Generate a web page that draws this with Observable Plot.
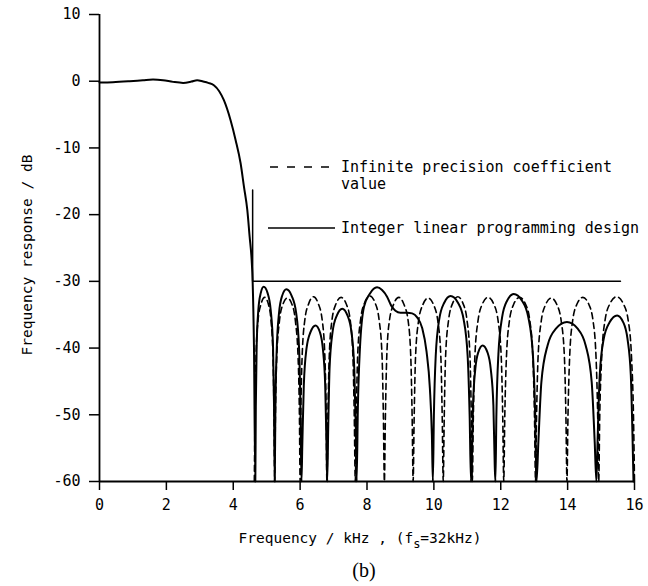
<!DOCTYPE html>
<html>
<head>
<meta charset="utf-8">
<script src="https://cdn.jsdelivr.net/npm/d3@7"></script>
<script src="https://cdn.jsdelivr.net/npm/@observablehq/plot@0.6"></script>
<style>
  html, body { margin: 0; padding: 0; background: #fff; }
  #wrap { position: relative; width: 648px; height: 586px; background: #fff; overflow: hidden; }
  #overlay { position: absolute; left: 0; top: 0; pointer-events: none; }
  .mono { font-family: "DejaVu Sans Mono", monospace; fill: #000; }
</style>
</head>
<body>
<div id="wrap">
  <div id="chart"></div>
  <svg id="overlay" width="648" height="586" xmlns="http://www.w3.org/2000/svg">
    <line x1="270" x2="335" y1="167" y2="167" stroke="#000" stroke-width="1.6" stroke-dasharray="8,9"/>
    <text class="mono" x="341" y="172" font-size="15">Infinite precision coefficient</text>
    <text class="mono" x="341" y="189" font-size="15">value</text>
    <line x1="268" x2="335" y1="228" y2="228" stroke="#000" stroke-width="1.4"/>
    <text class="mono" x="341" y="233" font-size="15">Integer linear programming design</text>
    <text class="mono" x="28" y="255" font-size="14.5" text-anchor="middle" transform="rotate(-90 28 255)" dominant-baseline="middle">Frequency response / dB</text>
    <text class="mono" x="360" y="543" font-size="14.5" text-anchor="middle">Frequency / kHz , (f<tspan font-size="12" dy="5">s</tspan><tspan dy="-5">=32kHz)</tspan></text>
    <text x="364" y="577" font-size="20" text-anchor="middle" font-family="'Liberation Serif', 'DejaVu Serif', serif" fill="#000">(b)</text>
  </svg>
</div>
<script>
// ---- data ----
const xTicks = [0, 2, 4, 6, 8, 10, 12, 14, 16];
const yTicks = [10, 0, -10, -20, -30, -40, -50, -60];

// Integer linear programming design (solid)
const ilpFreq = [
  0, 0.4, 0.9, 1.3, 1.6, 1.9, 2.2, 2.5, 2.75, 2.92, 3.1, 3.25, 3.42, 3.58, 3.72, 3.92, 4.07, 4.22, 4.32, 4.42, 4.49, 4.55, 4.58, 4.62, 4.66,
  4.675, 4.70, 4.75, 4.82, 4.91, 5.03, 5.12, 5.19, 5.22, 5.24,
  5.26, 5.30, 5.37, 5.46, 5.59, 5.75, 5.88, 5.97, 6.01, 6.04,
  6.065, 6.11, 6.19, 6.31, 6.46, 6.59, 6.68, 6.75, 6.79, 6.81,
  6.84, 6.88, 6.97, 7.10, 7.26, 7.415, 7.535, 7.62, 7.665, 7.69,
  7.727, 7.79, 7.91, 8.08, 8.30, 8.45, 8.6, 8.72, 8.85, 9.0, 9.2, 9.35, 9.5, 9.65, 9.78, 9.88, 9.94, 9.97,
  10.00, 10.055, 10.16, 10.31, 10.5, 10.72, 10.89, 11.01, 11.07, 11.11,
  11.13, 11.17, 11.24, 11.33, 11.46, 11.60, 11.70, 11.78, 11.82, 11.84,
  11.87, 11.93, 12.04, 12.19, 12.39, 12.635, 12.825, 12.96, 13.03, 13.07,
  13.125, 13.215, 13.40, 13.65, 13.98, 14.30, 14.54, 14.72, 14.81, 14.86,
  14.90, 14.96, 15.08, 15.26, 15.48, 15.66, 15.79, 15.89, 15.94, 15.97
];
const ilpDb = [
  -0.2, -0.15, 0.0, 0.15, 0.25, 0.15, -0.1, -0.25, -0.05, 0.15, -0.05, -0.25, -0.6, -1.5, -2.85, -5.85, -8.8, -12.3, -15.8, -19.3, -23.3, -26.8, -30, -40, -60,
  -48.8, -39.8, -34.3, -31.8, -30.8, -31.8, -34.3, -39.8, -48.8, -60,
  -49.2, -40.2, -34.7, -32.2, -31.2, -32.2, -34.7, -40.2, -49.2, -60,
  -54.6, -45.6, -40.1, -37.6, -36.6, -37.6, -40.1, -45.6, -54.6, -60,
  -52.1, -43.1, -37.6, -35.1, -34.1, -35.1, -37.6, -43.1, -52.1, -60,
  -48.9, -39.9, -33.8, -31.9, -30.9, -31.3, -32.3, -33.6, -34.4, -34.7, -34.7, -34.8, -35.4, -37.0, -40.5, -46, -53, -60,
  -50.2, -41.2, -35.7, -33.2, -32.2, -33.2, -35.7, -41.2, -50.2, -60,
  -57.6, -48.6, -43.1, -40.6, -39.6, -40.6, -43.1, -48.6, -57.6, -60,
  -49.9, -40.9, -35.4, -32.9, -31.9, -32.9, -35.4, -40.9, -49.9, -60,
  -54.1, -45.1, -39.6, -37.1, -36.1, -37.1, -39.6, -45.1, -54.1, -60,
  -53.1, -44.1, -38.6, -36.1, -35.1, -36.1, -38.6, -44.1, -53.1, -60
];

// Infinite precision coefficient value (dashed)
const infFreq = [
  4.63, 4.65, 4.68, 4.74, 4.83, 4.94, 5.05, 5.13, 5.19, 5.22, 5.24,
  5.26, 5.30, 5.38, 5.48, 5.62, 5.76, 5.86, 5.94, 5.98, 6.0,
  6.02, 6.06, 6.14, 6.26, 6.40, 6.54, 6.66, 6.74, 6.78, 6.8,
  6.83, 6.87, 6.95, 7.07, 7.225, 7.38, 7.50, 7.58, 7.62, 7.65,
  7.68, 7.72, 7.81, 7.93, 8.085, 8.24, 8.36, 8.45, 8.49, 8.52,
  8.55, 8.59, 8.67, 8.80, 8.95, 9.10, 9.23, 9.31, 9.35, 9.38,
  9.41, 9.45, 9.54, 9.67, 9.83, 9.99, 10.12, 10.21, 10.25, 10.28,
  10.31, 10.35, 10.44, 10.56, 10.715, 10.87, 10.99, 11.08, 11.12, 11.15,
  11.18, 11.225, 11.32, 11.45, 11.62, 11.79, 11.92, 12.015, 12.06, 12.09,
  12.12, 12.17, 12.26, 12.39, 12.565, 12.74, 12.87, 12.96, 13.01, 13.04,
  13.07, 13.115, 13.21, 13.34, 13.51, 13.68, 13.81, 13.905, 13.95, 13.98,
  14.01, 14.06, 14.15, 14.28, 14.455, 14.63, 14.76, 14.85, 14.90, 14.93,
  14.96, 15.02, 15.12, 15.27, 15.465, 15.66, 15.81, 15.91, 15.97, 16.0
];
const infDb = [
  -60, -50.4, -41.4, -35.9, -33.4, -32.4, -33.4, -35.9, -41.4, -50.4, -60,
  -50.5, -41.5, -36.0, -33.5, -32.5, -33.5, -36.0, -41.5, -50.5, -60,
  -50.3, -41.3, -35.8, -33.3, -32.3, -33.3, -35.8, -41.3, -50.3, -60,
  -50.4, -41.4, -35.9, -33.4, -32.4, -33.4, -35.9, -41.4, -50.4, -60,
  -50.2, -41.2, -35.7, -33.2, -32.2, -33.2, -35.7, -41.2, -50.2, -60,
  -50.4, -41.4, -35.9, -33.4, -32.4, -33.4, -35.9, -41.4, -50.4, -60,
  -50.5, -41.5, -36.0, -33.5, -32.5, -33.5, -36.0, -41.5, -50.5, -60,
  -50.3, -41.3, -35.8, -33.3, -32.3, -33.3, -35.8, -41.3, -50.3, -60,
  -50.4, -41.4, -35.9, -33.4, -32.4, -33.4, -35.9, -41.4, -50.4, -60,
  -50.4, -41.4, -35.9, -33.4, -32.4, -33.4, -35.9, -41.4, -50.4, -60,
  -50.5, -41.5, -36.0, -33.5, -32.5, -33.5, -36.0, -41.5, -50.5, -60,
  -50.4, -41.4, -35.9, -33.4, -32.4, -33.4, -35.9, -41.4, -50.4, -60,
  -50.3, -41.3, -35.8, -33.3, -32.3, -33.3, -35.8, -41.3, -50.3, -60
];

// stopband specification mask
const maskFreq = [4.58, 4.58, 15.58];
const maskDb = [-16.3, -30, -30];

// ---- build tables ----
const ilp = ilpFreq.map((f, i) => ({f, db: ilpDb[i]}));
const inf = infFreq.map((f, i) => ({f, db: infDb[i]}));
const mask = maskFreq.map((f, i) => ({f, db: maskDb[i]}));

const chart = Plot.plot({
  width: 648,
  height: 520,
  marginLeft: 99,
  marginRight: 14,
  marginTop: 14,
  marginBottom: 39,
  style: {fontFamily: "'DejaVu Sans Mono', monospace", fontSize: "15px", background: "#fff", color: "#000"},
  x: {domain: [0, 16]},
  y: {domain: [-60, 10]},
  marks: [
    Plot.axisX({ticks: xTicks, tickSize: 9, tickPadding: 9, tickFormat: d => String(d), label: null, strokeWidth: 1.5}),
    Plot.axisY({ticks: yTicks, tickSize: 10, tickPadding: 9, tickFormat: d => String(d), label: null, strokeWidth: 1.5}),
    Plot.ruleX([0], {stroke: "#000", strokeWidth: 1.8}),
    Plot.ruleY([-60], {stroke: "#000", strokeWidth: 1.8}),
    Plot.line(mask, {x: "f", y: "db", stroke: "#000", strokeWidth: 1.5}),
    Plot.line(inf, {x: "f", y: "db", stroke: "#000", strokeWidth: 1.6, strokeDasharray: "6,4", curve: "monotone-x"}),
    Plot.line(ilp, {x: "f", y: "db", stroke: "#000", strokeWidth: 2, curve: "monotone-x"})
  ]
});
document.getElementById("chart").appendChild(chart);
</script>
</body>
</html>
